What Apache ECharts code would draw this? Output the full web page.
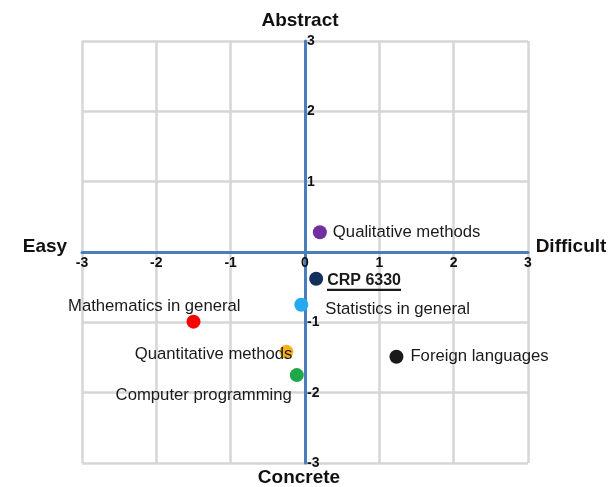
<!DOCTYPE html>
<html>
<head>
<meta charset="utf-8">
<script src="https://cdn.jsdelivr.net/npm/echarts@6/dist/echarts.min.js"></script>
<style>
  html, body { margin: 0; padding: 0; background: #fff; }
  #chart { width: 609px; height: 487px; }
</style>
</head>
<body>
<div id="chart"></div>
<script>
  // data
  const names = ['Qualitative methods', 'CRP 6330', 'Statistics in general', 'Mathematics in general',
    'Quantitative methods', 'Computer programming', 'Foreign languages']
  const xValues = [0.2, 0.15, -0.05, -1.5, -0.25, -0.11, 1.23]
  const yValues = [0.28, -0.38, -0.75, -0.99, -1.42, -1.75, -1.49]
  const tickValues = [-3, -2, -1, 0, 1, 2, 3]

  // styles per point
  const colorList = ['#7030a0', '#13305c', '#25a9f0', '#ff0000', '#f7b020', '#1fa84a', '#1a1a1a']
  const labelLayout = [
    { align: 'left', offset: [13, 0] },
    { align: 'left', offset: [11, 2], bold: true },
    { align: 'left', offset: [24, 5] },
    { align: 'right', offset: [47, -15] },
    { align: 'right', offset: [6, 3] },
    { align: 'right', offset: [-5, 20] },
    { align: 'left', offset: [14, 0] }
  ]

  const W = 609, H = 487
  const grid = { left: 82, right: 81, top: 41, bottom: 24 }
  const font = 'Liberation Sans, Arial, sans-serif'

  // little image used as an underline behind the CRP label
  const ul = document.createElement('canvas')
  ul.width = 4
  ul.height = 20
  const ulCtx = ul.getContext('2d')
  ulCtx.fillStyle = '#1a1a1a'
  ulCtx.fillRect(0, 18, 4, 2)

  const axisBlue = '#4a7ebb'
  const gridGray = '#d6d6d6'

  const data = names.map((n, i) => {
    const lay = labelLayout[i]
    const label = {
      show: true,
      formatter: '{b}',
      position: 'inside',
      align: lay.align,
      verticalAlign: 'middle',
      offset: lay.offset,
      color: '#1a1a1a',
      fontSize: 16.7,
      fontFamily: font
    }
    if (lay.bold) {
      label.formatter = '{u|{b}}'
      label.rich = {
        u: {
          fontSize: 16,
          fontWeight: 'bold',
          color: '#1a1a1a',
          fontFamily: font,
          height: 20,
          backgroundColor: { image: ul }
        }
      }
    }
    return {
      name: n,
      value: [xValues[i], yValues[i]],
      itemStyle: { color: colorList[i], opacity: 1 },
      label: label
    }
  })

  // axes sit in the middle of the grid (0 is the centre of -3..3)
  const plotW = W - grid.left - grid.right
  const plotH = H - grid.top - grid.bottom

  const axisCommon = {
    type: 'value',
    min: tickValues[0],
    max: tickValues[tickValues.length - 1],
    interval: 1,
    axisTick: { show: false },
    axisLine: { show: true, onZero: false, lineStyle: { color: axisBlue, width: 3 } },
    splitLine: { show: true, lineStyle: { color: gridGray, width: 2.5 } }
  }

  const titleStyle = (t) => ({ text: t, align: 'center', verticalAlign: 'middle', font: 'bold 19px ' + font, fill: '#111' })

  const options = {
    backgroundColor: '#fff',
    animation: false,
    grid: grid,
    xAxis: Object.assign({}, axisCommon, {
      offset: -plotH / 2,
      axisLabel: {
        margin: 4,
        color: '#111',
        fontSize: 14,
        fontWeight: 'bold',
        fontFamily: font
      },
      z: 3
    }),
    yAxis: Object.assign({}, axisCommon, {
      offset: -plotW / 2,
      axisLabel: {
        inside: true,
        margin: 2,
        color: '#111',
        fontSize: 14,
        fontWeight: 'bold',
        fontFamily: font,
        formatter: (v) => (v === 0 ? '' : v)
      },
      z: 3
    }),
    graphic: [
      { type: 'text', x: 300, y: 21, style: titleStyle('Abstract') },
      { type: 'text', x: 299, y: 478, style: titleStyle('Concrete') },
      { type: 'text', x: 45, y: 247, style: titleStyle('Easy') },
      { type: 'text', x: 571, y: 247, style: titleStyle('Difficult') }
    ],
    series: [
      {
        type: 'scatter',
        symbol: 'circle',
        symbolSize: 14,
        data: data,
        z: 5
      }
    ]
  }

  const chart = echarts.init(document.getElementById('chart'))
  chart.setOption(options)
  window.addEventListener('resize', function () {
    chart && chart.resize()
  })
</script>
</body>
</html>
